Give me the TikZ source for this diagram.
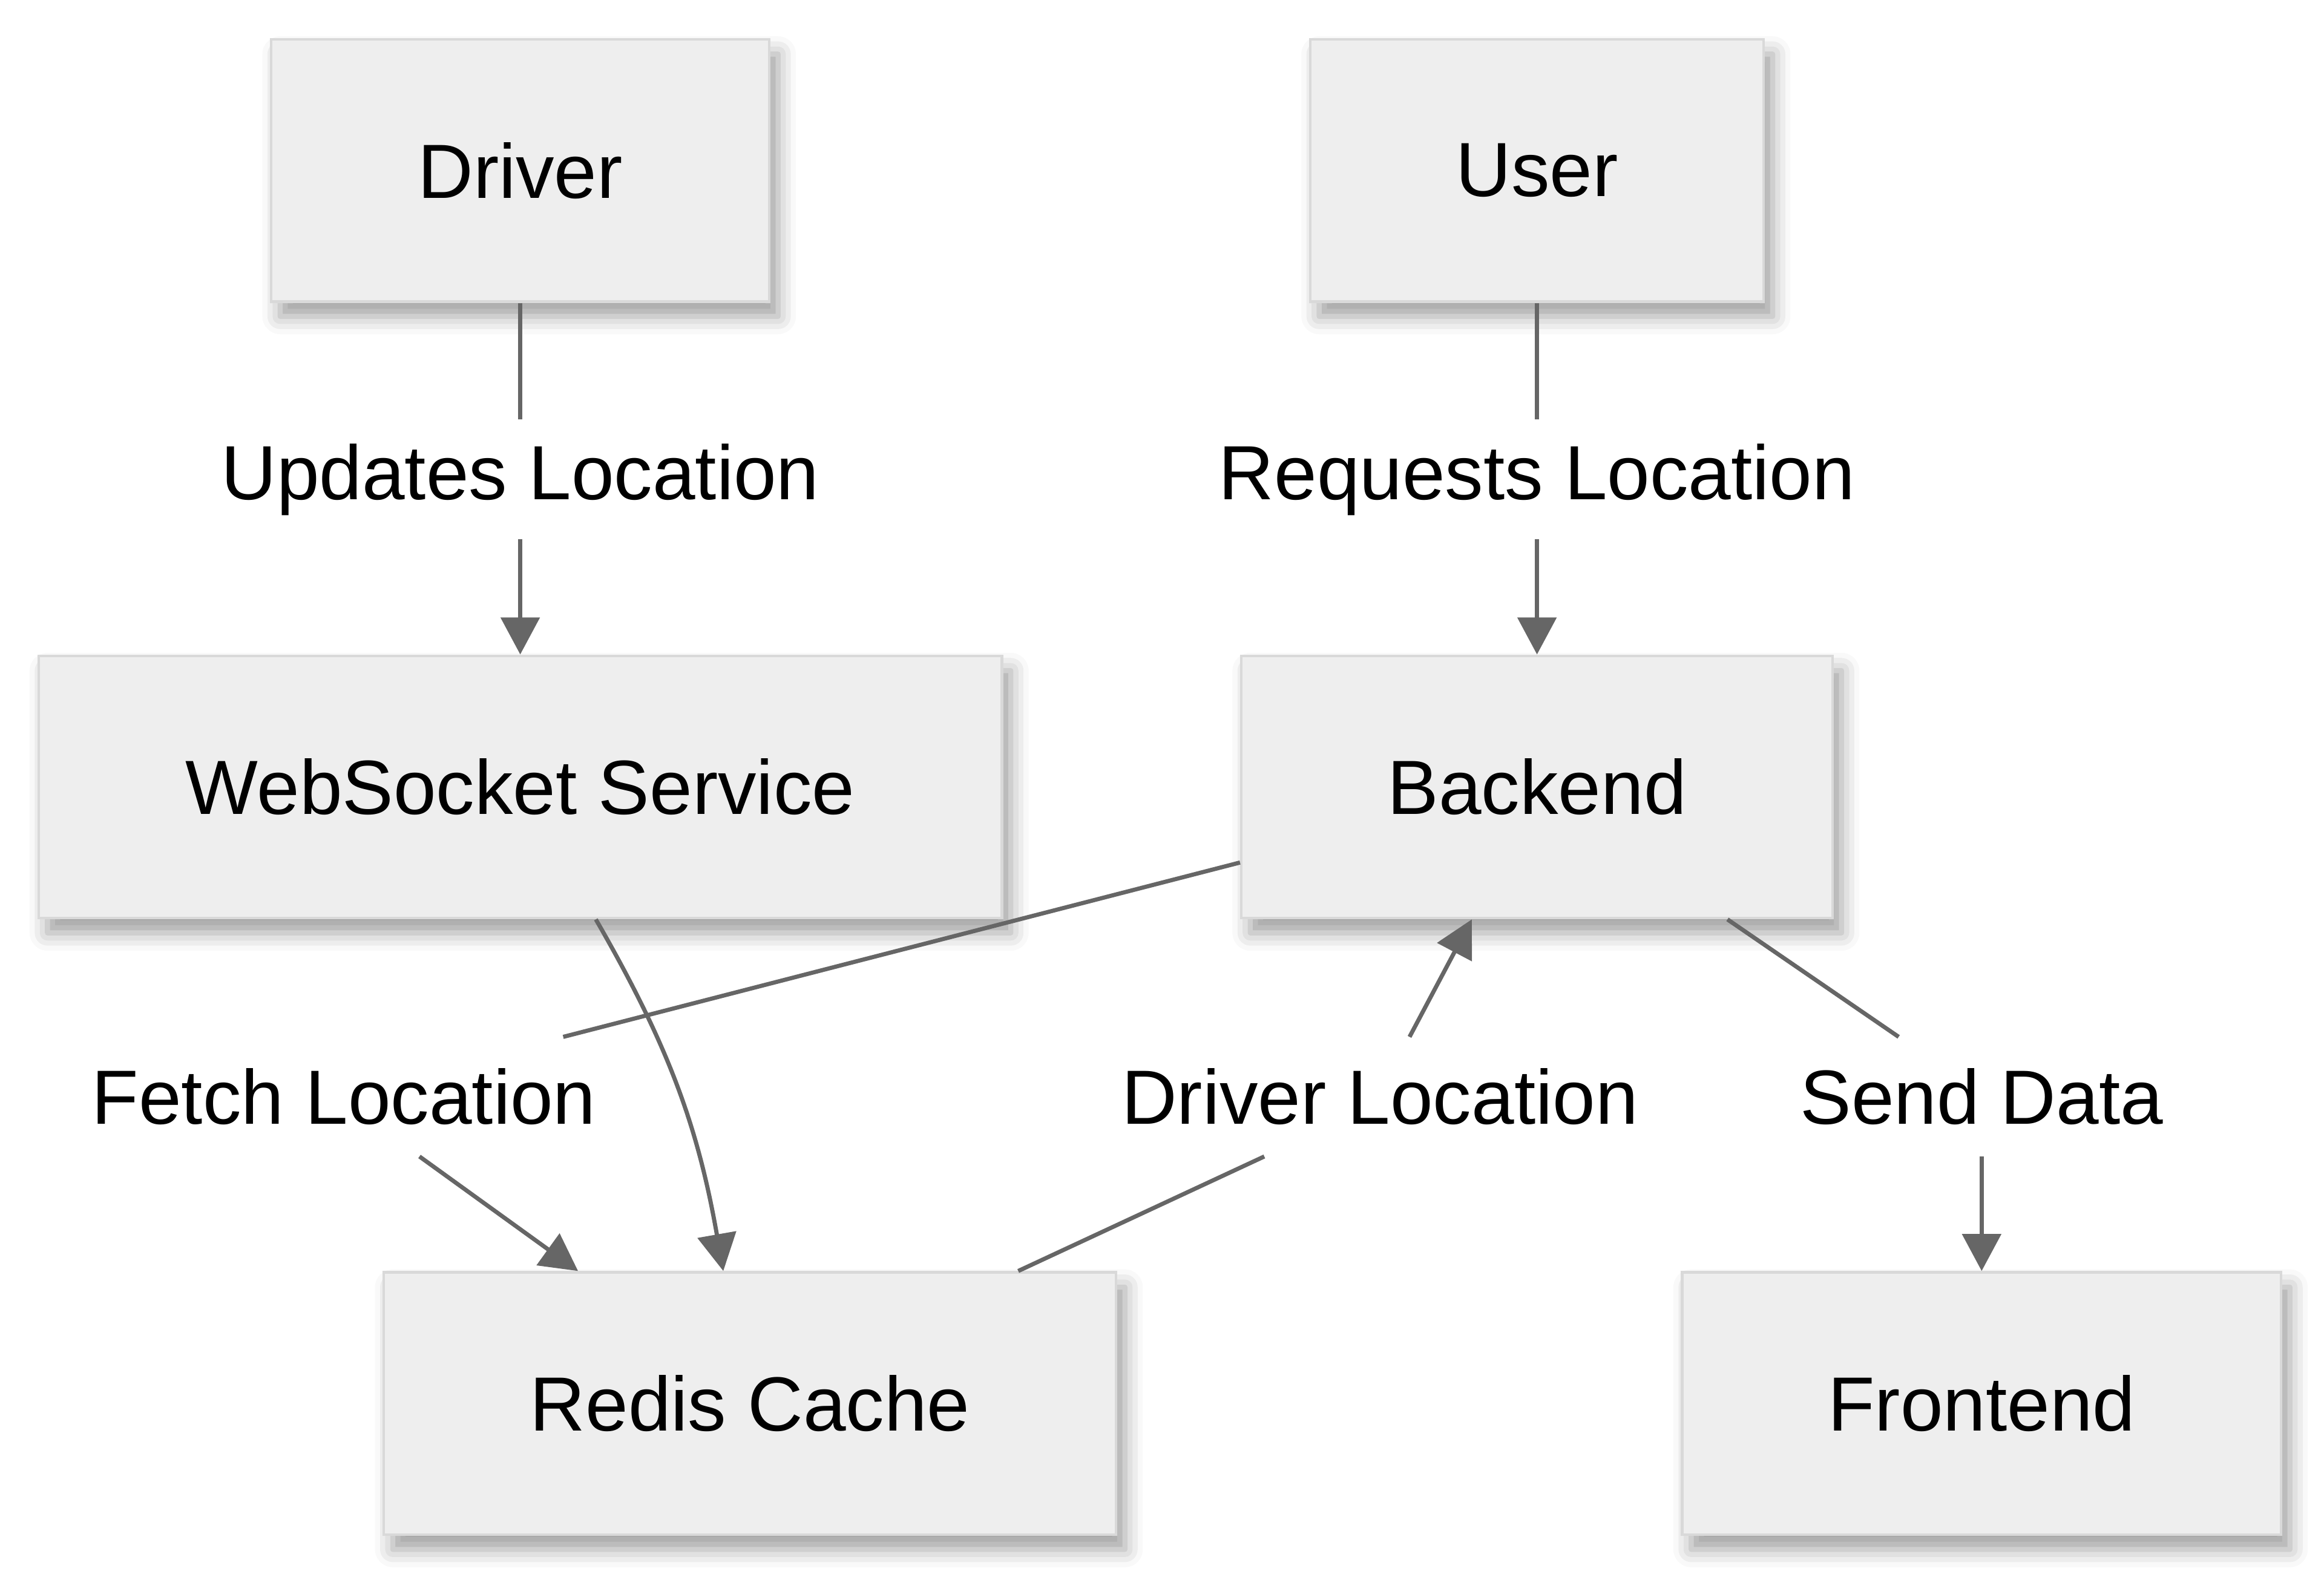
\documentclass[tikz,border=0pt]{standalone}
\usepackage{fontspec}
\setmainfont{Liberation Sans}
\usetikzlibrary{arrows.meta,shadows.blur}
\definecolor{boxfill}{HTML}{EEEEEE}
\definecolor{boxline}{HTML}{D9D9D9}
\definecolor{edgegray}{HTML}{666666}

\begin{document}
\begin{tikzpicture}[box/.style={rectangle,draw=boxline,line width=1pt,fill=boxfill,minimum height=3.54cm,inner sep=0pt,
		blur shadow={shadow xshift=0.12cm,shadow yshift=-0.2cm,shadow blur radius=0.24cm,shadow opacity=38}},
	lbl/.style={rectangle,fill=white,inner xsep=0.1cm,inner ysep=0pt,minimum height=1.6cm},
	conn/.style={draw=edgegray,line width=1.6pt},
	arr/.style={conn,-{Triangle[length=0.5cm,width=0.52cm]}},
	every node/.style={font=\fontsize{29.5}{35}\selectfont}]
		\useasboundingbox (0,0) rectangle (31.36,-21.28);
		
		\node (driver) at (7.02,-2.3) [box,minimum width=6.72cm] {Driver};
		\node (user) at (20.74,-2.3) [box,minimum width=6.12cm] {User};
		\node (ws) at (7.02,-10.62) [box,minimum width=13cm] {WebSocket Service};
		\node (backend) at (20.74,-10.62) [box,minimum width=7.98cm] {Backend};
		\node (redis) at (10.12,-18.94) [box,minimum width=9.88cm] {Redis Cache};
		\node (frontend) at (26.74,-18.94) [box,minimum width=8.08cm] {Frontend};
		
		\node (upd) at (7.02,-6.47) [lbl] {Updates Location};
		\node (req) at (20.74,-6.47) [lbl] {Requests Location};
		\node (fetch) at (4.64,-14.8) [lbl] {Fetch Location};
		\node (drvloc) at (18.62,-14.8) [lbl] {Driver Location};
		\node (send) at (26.74,-14.8) [lbl] {Send Data};
		
		\draw[conn] (driver) to (upd);
		\draw[arr] (upd) to (ws);
		\draw[conn] (user) to (req);
		\draw[arr] (req) to (backend);
		
		\draw[conn] ([yshift=-1.02cm]backend.west) to ([xshift=2.96cm]fetch.north);
		\draw[arr] ([xshift=1.02cm]fetch.south) to ([xshift=-2.32cm]redis.north);
		\draw[arr] ([xshift=1.02cm]ws.south) to[out=-60,in=100] ([xshift=-0.36cm]redis.north);
		
		\draw[conn] ([xshift=3.62cm]redis.north) to ([xshift=-1.56cm]drvloc.south);
		\draw[arr] ([xshift=0.4cm]drvloc.north) to ([xshift=-0.88cm]backend.south);
		
		\draw[conn] ([xshift=2.57cm]backend.south) to ([xshift=-1.12cm]send.north);
		\draw[arr] (send) to (frontend);
		
	\end{tikzpicture}
\end{document}
